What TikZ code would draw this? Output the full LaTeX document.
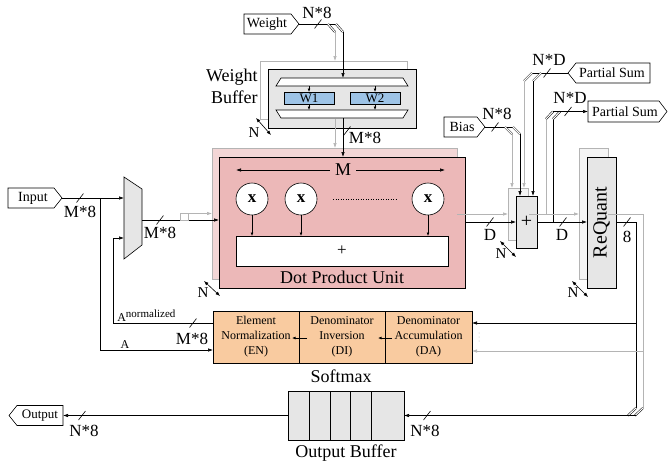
\documentclass[tikz,border=0pt]{standalone}
\usepackage{fontspec}
\setmainfont{Liberation Serif}
\usetikzlibrary{arrows.meta}
\definecolor{dpupink}{HTML}{ECB8B8}
\definecolor{dpushadow}{HTML}{F3D6D6}
\definecolor{boxgray}{HTML}{E6E6E6}
\definecolor{shgray}{HTML}{F5F5F5}
\definecolor{peach}{HTML}{F9CBA0}
\definecolor{wblue}{HTML}{9DC3E6}
\definecolor{lgray}{HTML}{B4B4B4}
\newcommand\bustick[2]{\draw (#1-3.5,#2+4.5) -- (#1+3.5,#2-4.5);}
\begin{document}
\begin{tikzpicture}[x=1pt,y=-1pt, line width=0.6pt,
 box/.style={draw=black, inner sep=0pt, outer sep=0pt, anchor=north west},
 shbox/.style={draw=lgray, inner sep=0pt, outer sep=0pt, anchor=north west},
 ar/.style={-{Latex[length=5pt,width=3.5pt]}},
 sar/.style={-{Latex[length=3.5pt,width=2.8pt]}},
 gar/.style={draw=lgray,-{Latex[length=5pt,width=3.5pt]}},
 gl/.style={draw=lgray},
 dar/.style={{Latex[length=4.5pt,width=3.5pt]}-{Latex[length=4.5pt,width=3.5pt]}},
 big/.style={font=\fontsize{18}{22}\selectfont, inner sep=0pt},
 lab/.style={font=\fontsize{17}{18}\selectfont, inner sep=0pt},
 nlab/.style={font=\fontsize{15}{16}\selectfont, inner sep=0pt},
 sm/.style={font=\fontsize{14}{15}\selectfont, inner sep=0pt},
 smx/.style={font=\fontsize{12}{15}\selectfont, inner sep=0pt, align=center},
 bendl/.style={double=white, double distance=1.1pt, line width=0.5pt},
]
\useasboundingbox (0,0) rectangle (668,466);

% ---------------- Weight input ----------------
\draw[fill=white] (244,14) -- (291,14) -- (299,24) -- (291,34) -- (244,34) -- cycle;
\node[sm] (weight) at (267,24) {Weight};
\coordinate (weighttip) at (299,24);
\draw (weighttip) -- (336,24);
\draw[bendl] (328,24) -- (335,32);
\draw[bendl] (336,24) -- (343,32);
\bustick{318}{24}
\node[lab] (wn8) at (317,13) {N*8};

% ---------------- Weight Buffer ----------------
\node[shbox, fill=white, minimum width=147pt, minimum height=58pt] (wbsh) at (260,61) {};
\node[box, fill=boxgray, minimum width=148pt, minimum height=59pt] (wb) at (268,69) {};
\draw[fill=white] (281,78) -- (403,78) -- (408,86) -- (276,86) -- cycle;
\draw[fill=white] (276,110) -- (408,110) -- (403,118) -- (281,118) -- cycle;
\node[box, fill=wblue, minimum width=50pt, minimum height=12pt, font=\fontsize{13}{13}\selectfont] (w1) at (284,92) {W1};
\node[box, fill=wblue, minimum width=50pt, minimum height=12pt, font=\fontsize{13}{13}\selectfont] (w2) at (350,92) {W2};
\draw[sar] (309,86) -- (w1.north);
\draw[sar] (375,86) -- (w2.north);
\draw[sar] (w1.south) -- (309,110);
\draw[sar] (w2.south) -- (375,110);
\draw[gar] (335,32) -- (335,61);
\draw[ar] (343,32) -- (343,78);
\node[big, align=right, anchor=east] (wbl) at (258,86) {Weight\\Buffer};
\draw[dar] (256,118) -- (271,135);
\node[nlab] (nwb) at (254,133) {N};

% ---------------- Dot Product Unit ----------------
\node[shbox, fill=dpushadow, minimum width=245pt, minimum height=131pt] (dpush) at (212,148) {};
\node[box, fill=dpupink, minimum width=246pt, minimum height=131pt] (dpu) at (219,157) {};
\draw[gar] (335,119) -- (335,148);
\draw[ar] (343,118) -- (343,157);
\bustick{347}{131}
\node[lab] (wm8) at (365,138) {M*8};
\node[big] (mlab) at (343,170) {M};
\draw[ar] (mlab.west) ++(-5,0) -- (236,170);
\draw[ar] (mlab.east) ++(5,0) -- (445,170);
\foreach \cx/\nm in {252/c1,301/c2,428/c3}{
  \node[circle, draw, fill=white, minimum size=32pt, inner sep=0pt, font=\fontsize{17}{17}\selectfont\bfseries] (\nm) at (\cx,199) {x};
}
\draw[dotted, line width=0.5pt] (333,199) -- (397,199);
\node[box, fill=white, minimum width=212pt, minimum height=30pt, font=\fontsize{17}{17}\selectfont] (plus) at (236,236) {+};
\foreach \nm in {c1,c2,c3}{ \draw[sar] (\nm.south) -- (\nm.south |- plus.north); }
\node[big] (dpul) at (342,277) {Dot Product Unit};
\draw[dar] (204,281) -- (220,296);
\node[nlab] (ndpu) at (203,293) {N};

% ---------------- Input & Mux ----------------
\draw[fill=white] (8,188) -- (54,188) -- (62,198) -- (54,208) -- (8,208) -- cycle;
\node[sm] (input) at (33,198) {Input};
\draw[fill=boxgray] (124,177) -- (142,189) -- (142,245) -- (124,259) -- cycle;
\coordinate (mux) at (133,218);
\draw[ar] (62,198) -- (124,198);
\bustick{80}{198}
\node[lab] (im8) at (80,212) {M*8};
\draw[ar] (100,198) -- (100,350) -- (213,350);
\node[smx, anchor=south] (alab) at (125,349) {A};
\draw[ar] (213,323) -- (113,323) -- (113,238) -- (124,238);
\node[anchor=south west, inner sep=0pt] (anlab) at (117,322) {\fontsize{12}{12}\selectfont A\raisebox{4pt}{\fontsize{11}{11}\selectfont normalized}};
\bustick{193}{323}
\node[lab] (em8) at (192,339) {M*8};
\draw[ar] (142,220) -- (dpu.west |- 0,220);
\draw[gl, fill=white] (180,213) rectangle (188,220);
\draw[gar] (188,213.5) -- (212,213.5);
\bustick{160}{220}
\node[lab] (mm8) at (160,233) {M*8};

% ---------------- Adder ----------------
\node[shbox, fill=shgray, minimum width=20pt, minimum height=52pt] (addsh) at (508,188) {};
\node[box, fill=boxgray, minimum width=21pt, minimum height=52pt, font=\fontsize{20}{20}\selectfont] (add) at (516,196) {+};
\draw[ar] (465,222) -- (516,222);
\draw[gar] (457,214) -- (508,214);
\bustick{490}{222}
\node[lab] (d1) at (490,235) {D};
\draw[dar] (500,241) -- (516,257);
\node[nlab] (nadd) at (501,254) {N};

% Bias
\draw[fill=white] (444,117) -- (477,117) -- (485,127) -- (477,137) -- (444,137) -- cycle;
\node[sm] (bias) at (462,127) {Bias};
\draw (485,127) -- (513,127);
\draw[bendl] (505,127) -- (512,134);
\draw[bendl] (513,127) -- (520,134);
\draw[gar] (512,134) -- (512,188);
\draw[ar] (520,134) -- (520,196);
\bustick{495}{127}
\node[lab] (bn8) at (497,114) {N*8};

% Partial Sum input
\draw[fill=white] (568,73) -- (576,63) -- (650,63) -- (650,83) -- (576,83) -- cycle;
\node[sm] (psin) at (612,73) {Partial Sum};
\draw (568,73) -- (532,73);
\draw[bendl] (541,73) -- (533,81);
\draw[bendl] (532,73) -- (524,81);
\draw[gar] (524,81) -- (524,188);
\draw[ar] (533,81) -- (533,196);
\bustick{547}{73}
\node[lab] (pn1) at (549,60) {N*D};

% Partial Sum output
\draw[fill=white] (588,101) -- (659,101) -- (667,111.5) -- (659,122) -- (588,122) -- cycle;
\node[sm] (psout) at (625,111.5) {Partial Sum};
\draw[gl] (546,214) -- (546,119);
\draw (553,222) -- (553,119);
\draw[bendl] (546,119) -- (553,111.5);
\draw[bendl] (553,119) -- (560,111.5);
\draw[ar] (553,111.5) -- (588,111.5);
\bustick{568}{111.5}
\node[lab] (pn2) at (570,98) {N*D};

% ---------------- ReQuant ----------------
\node[shbox, fill=shgray, minimum width=29pt, minimum height=131pt] (rqsh) at (579,148) {};
\node[box, fill=boxgray, minimum width=29pt, minimum height=131pt] (rq) at (587,157) {};
\node[rotate=90, font=\fontsize{20}{20}\selectfont, inner sep=0pt] (rql) at (rq.center) {ReQuant};
\draw[ar] (537,222) -- (587,222);
\draw[gar] (529,214) -- (579,214);
\bustick{563}{222}
\node[lab] (d2) at (562,235) {D};
\draw[dar] (572,281) -- (588,297);
\node[nlab] (nrq) at (573,293) {N};

\draw (616,222) -- (636,222) -- (636,408);
\draw[gl] (608,214) -- (643,214) -- (643,408);
\bustick{627}{222}
\node[lab] (r8) at (627,237) {8};
\draw[bendl] (636,408) -- (628,415.5);
\draw[bendl] (643,408) -- (635,415.5);

% ---------------- Softmax ----------------
\node[box, fill=peach, minimum width=86pt, minimum height=52pt, smx] (en) at (213,311) {Element\\Normalization\\(EN)};
\node[box, fill=peach, minimum width=86pt, minimum height=52pt, smx] (di) at (299,311) {Denominator\\Inversion\\(DI)};
\node[box, fill=peach, minimum width=87pt, minimum height=52pt, smx] (da) at (385,311) {Denominator\\Accumulation\\(DA)};
\draw[sar] (392,338) -- (378,338);
\draw[sar] (307,338) -- (292,338);
\draw[ar] (636,323) -- (da.east |- 0,323);
\draw[gar] (643,351) -- (da.east |- 0,351);
\foreach \yy in {333,337,341} \fill[lgray] (479,\yy) circle (0.5);
\node[big] (smaxl) at (341,376) {Softmax};

% ---------------- Output Buffer ----------------
\node[box, fill=boxgray, minimum width=116pt, minimum height=49pt] (ob) at (288,391) {};
\foreach \xx in {309,330,350,371} \draw (\xx,391) -- (\xx,440);
\node[big] (obl) at (346,453) {Output Buffer};
\draw[fill=white] (9,415.5) -- (17,405.5) -- (63,405.5) -- (63,425.5) -- (17,425.5) -- cycle;
\node[font=\fontsize{13}{13}\selectfont, inner sep=0pt] (output) at (40,415.5) {Output};
\draw[ar] (ob.west) -- (63,415.5);
\bustick{82}{415.5}
\node[lab] (on1) at (84,431) {N*8};
\draw[ar] (636,415.5) -- (ob.east);
\bustick{427}{415.5}
\node[lab] (on2) at (425,431) {N*8};
\end{tikzpicture}
\end{document}
